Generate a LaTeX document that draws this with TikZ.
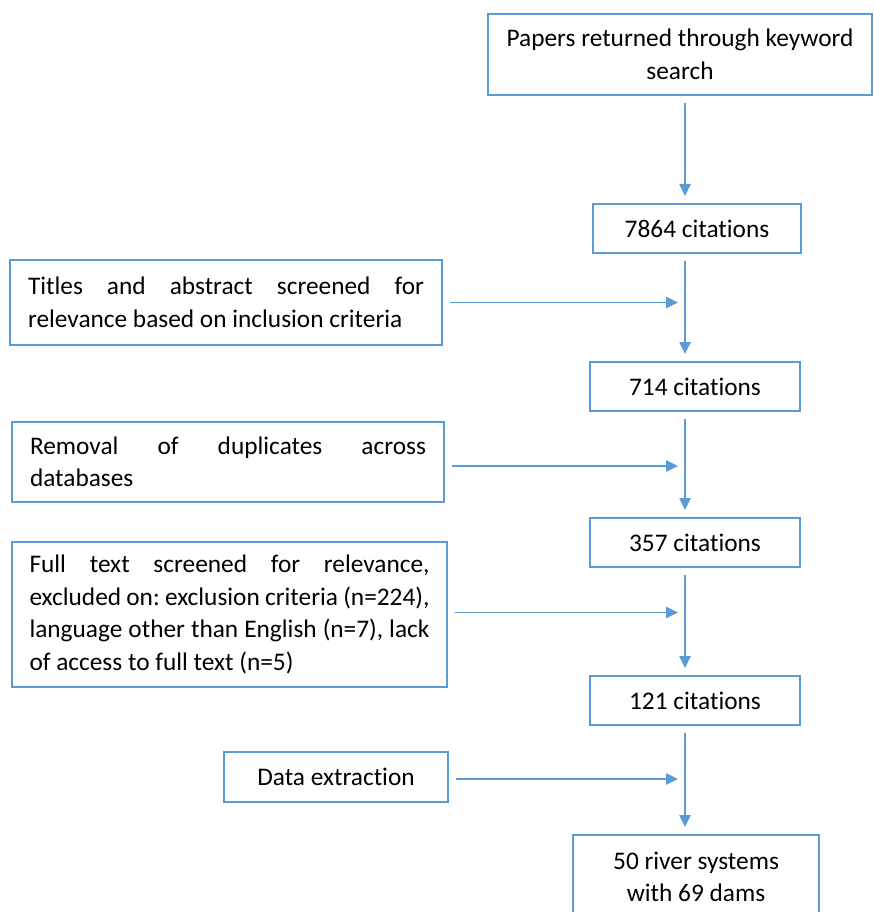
\documentclass[tikz,border=0pt]{standalone}
\usepackage{fontspec}
\setmainfont{Carlito}[Ligatures=NoCommon]
\usetikzlibrary{arrows.meta}
\definecolor{flowblue}{HTML}{5B9BD5}
\hbadness=10000
\hfuzz=20pt
\frenchspacing
\begin{document}
\begin{tikzpicture}[x=0.75pt,y=-0.75pt,
  every node/.style={font=\fontsize{19}{24.4}\selectfont, text=black},
  box/.style={draw=flowblue, line width=1.5pt, rectangle, inner sep=0pt, align=center},
  sidebox/.style={box, align=justify, inner ysep=0pt},
  countbox/.style={box, minimum width=157.5pt, minimum height=36.75pt},
  flow/.style={draw=flowblue, line width=1.1pt, -{Triangle[length=9pt,width=8.5pt]},
    shorten <=5.25pt, shorten >=5.25pt}]
  \useasboundingbox (0,0) rectangle (873,912);
  \fill[white] (0,0) rectangle (873,912);
  \clip (0,0) rectangle (873,912);

  % main column
  \node[box, minimum width=288pt, minimum height=60.75pt] (search) at (680,54.5)
    {Papers returned through keyword\\search};
  \node[countbox, minimum width=156pt] (c7864) at (697,228.5) {7864 citations};
  \node[countbox] (c714) at (695,386.5) {714 citations};
  \node[countbox] (c357) at (695,542.5) {357 citations};
  \node[countbox] (c121) at (695,700.5) {121 citations};
  \node[box, minimum width=184.5pt, minimum height=63pt] (final) at (696,877)
    {50 river systems\\with 69 dams};
  \coordinate (spine) at (685,0);

  % screening steps on the left
  \node[sidebox, inner xsep=13.5pt, text width=297pt, minimum height=63.75pt] (titles) at (226,302.5)
    {\frenchspacing Titles and abstract screened for\linebreak relevance based on inclusion criteria};
  \node[sidebox, inner xsep=13.5pt, text width=297pt, minimum height=60pt] (dupes) at (228,462)
    {\frenchspacing Removal of duplicates across\linebreak databases};
  \node[sidebox, inner xsep=13.1pt, text width=300pt, minimum height=108.75pt] (fulltext) at (229.5,614.5)
    {\frenchspacing Full text screened for relevance,\linebreak excluded on: exclusion criteria (n=224),\linebreak language other than English (n=7), lack\linebreak of access to full text (n=5)};
  \node[box, minimum width=168pt, minimum height=37.5pt] (extract) at (336,777)
    {Data extraction};

  % vertical flow
  \draw[flow] (search.south -| spine) -- (c7864.north -| spine);
  \draw[flow] (c7864.south -| spine) -- (c714.north -| spine);
  \draw[flow] (c714.south -| spine) -- (c357.north -| spine);
  \draw[flow] (c357.south -| spine) -- (c121.north -| spine);
  \draw[flow] (c121.south -| spine) -- (final.north -| spine);

  % side inputs
  \draw[flow] (titles.east) -- (titles.east -| spine);
  \draw[flow] ([yshift=-3pt]dupes.east) -- ([yshift=-3pt]dupes.east -| spine);
  \draw[flow] ([yshift=1.5pt]fulltext.east) -- ([yshift=1.5pt]fulltext.east -| spine);
  \draw[flow] ([yshift=-1.5pt]extract.east) -- ([yshift=-1.5pt]extract.east -| spine);
\end{tikzpicture}
\end{document}
